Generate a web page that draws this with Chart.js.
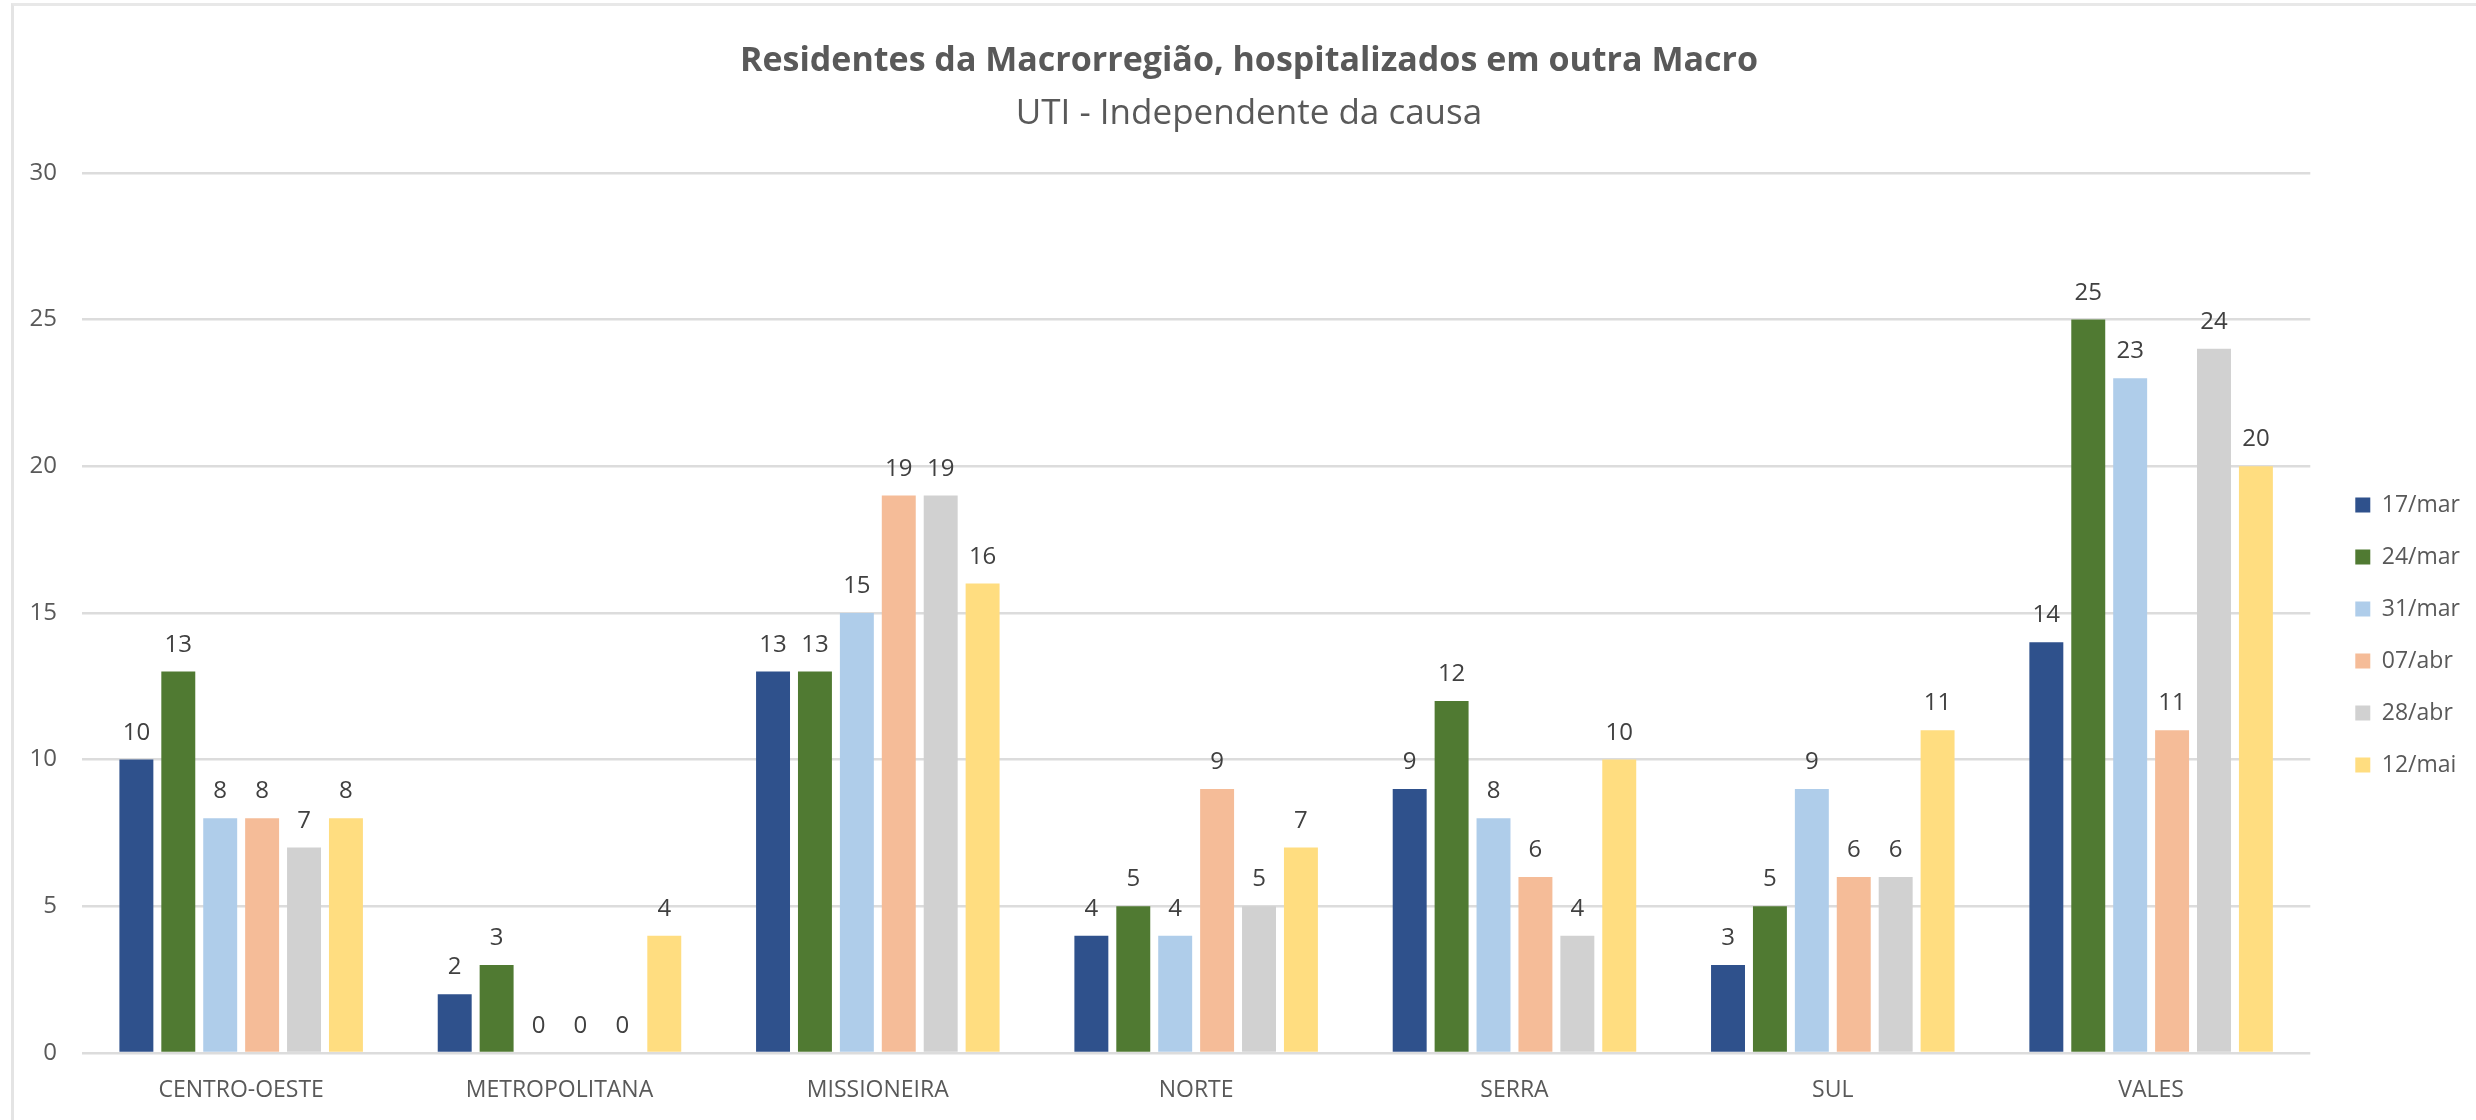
<!DOCTYPE html>
<html>
<head>
<meta charset="utf-8">
<script src="https://cdn.jsdelivr.net/npm/chart.js@4.4.1/dist/chart.umd.min.js"></script>
<style>
  html, body { margin: 0; padding: 0; background: #fff; overflow: hidden; }
  #wrap { position: relative; width: 2476px; height: 1120px; }
  #frame { position: absolute; left: 11px; top: 3px; right: 0; bottom: 0;
           border-left: 3px solid #e4e4e4; border-top: 3px solid #e8e8e8; pointer-events: none; }
</style>
</head>
<body>
<div id="wrap">
  <canvas id="myChart" width="2476" height="1120"></canvas>
  <div id="frame"></div>
</div>
<script>
// categories and series
var regions = ['CENTRO-OESTE', 'METROPOLITANA', 'MISSIONEIRA', 'NORTE', 'SERRA', 'SUL', 'VALES'];
var weeks = ['17/mar', '24/mar', '31/mar', '07/abr', '28/abr', '12/mai'];
var mar17 = [10, 2, 13, 4, 9, 3, 14];
var mar24 = [13, 3, 13, 5, 12, 5, 25];
var mar31 = [8, 0, 15, 4, 8, 9, 23];
var abr07 = [8, 0, 19, 9, 6, 6, 11];
var abr28 = [7, 0, 19, 5, 4, 6, 24];
var mai12 = [8, 4, 16, 7, 10, 11, 20];
var yTicksMax = 30;
var yTicksStep = 5;

var colors = ['#2F518C', '#507A32', '#AFCDEA', '#F5BC98', '#D1D1D1', '#FFDD80'];
var series = [mar17, mar24, mar31, abr07, abr28, mai12];

var textColor = '#595959';

// values above every bar
var valueLabels = {
    id: 'valueLabels',
    afterDatasetsDraw: function(chart) {
        var ctx = chart.ctx;
        ctx.save();
        ctx.font = '24px "Open Sans"';
        ctx.fillStyle = '#404040';
        ctx.textAlign = 'center';
        ctx.textBaseline = 'alphabetic';
        chart.data.datasets.forEach(function(ds, i) {
            chart.getDatasetMeta(i).data.forEach(function(bar, j) {
                ctx.fillText(ds.data[j], bar.x, bar.y - 20);
            });
        });
        ctx.restore();
    }
};

// nudge legend and titles a little, like the original
var layoutNudge = {
    id: 'layoutNudge',
    afterLayout: function(chart) {
        var l = chart.legend;
        l.left += 16; l.right += 16;
        l.top += 75; l.bottom += 75;
        chart.boxes.forEach(function(b) {
            if (b.position === 'top' && b !== l) { b.left += 10; b.right += 10; }
        });
    }
};

var ctx = document.getElementById('myChart');
var myChart = new Chart(ctx, {
    type: 'bar',
    data: {
        labels: regions,
        datasets: weeks.map(function(w, i) {
            return {
                label: w,
                data: series[i],
                backgroundColor: colors[i],
                borderWidth: 0,
                barPercentage: 0.81,
                categoryPercentage: 0.79
            };
        })
    },
    options: {
        responsive: false,
        animation: false,
        layout: { padding: { left: 24, right: 22, top: 0, bottom: 0 } },
        plugins: {
            title: {
                display: true,
                text: 'Residentes da Macrorregião, hospitalizados em outra Macro',
                color: textColor,
                font: { family: '"Open Sans"', size: 34, weight: 'bold' },
                padding: { top: 41, bottom: 5 }
            },
            subtitle: {
                display: true,
                text: 'UTI - Independente da causa',
                color: textColor,
                font: { family: '"Open Sans"', size: 35, weight: 'normal' },
                padding: { top: 6, bottom: 38 }
            },
            legend: {
                position: 'right',
                labels: {
                    boxWidth: 15,
                    boxHeight: 15,
                    padding: 29,
                    color: textColor,
                    font: { family: '"Open Sans"', size: 23 }
                }
            },
            tooltip: { enabled: false }
        },
        scales: {
            x: {
                grid: { display: false, drawTicks: false },
                border: { display: false },
                ticks: { color: textColor, padding: 24, font: { family: '"Open Sans"', size: 23 } },
                afterFit: function(scale) { scale.height = 67; }
            },
            y: {
                min: 0,
                max: yTicksMax,
                grid: { color: '#DCDCDC', lineWidth: 2.5, drawTicks: false },
                border: { display: false },
                ticks: { stepSize: yTicksStep, color: textColor, padding: 25, font: { family: '"Open Sans"', size: 24 } },
                afterFit: function(scale) { scale.width = 58; }
            }
        }
    },
    plugins: [valueLabels, layoutNudge]
});
</script>
</body>
</html>
